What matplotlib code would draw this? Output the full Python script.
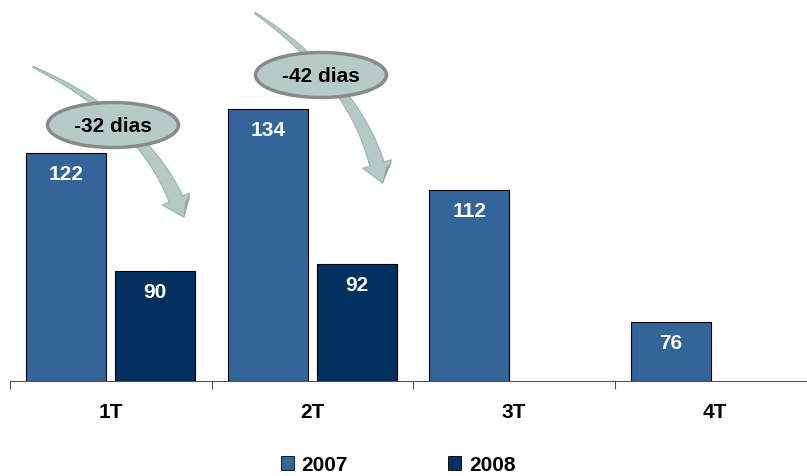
import numpy as np
import matplotlib.pyplot as plt
from matplotlib.patches import Ellipse, Polygon, Patch

# dados
trimestres = ['1T', '2T', '3T', '4T']
anos = ['2007', '2008']
dias_2007 = [122, 134, 112, 76]
dias_2008 = [90, 92, None, None]
notas = ['-32 dias', '-42 dias']

cor_2007 = '#34659A'
cor_2008 = '#02305F'
cor_seta = '#B3C9C3'

plt.rcParams['font.family'] = ['Liberation Sans', 'DejaVu Sans']

fig = plt.figure(figsize=(8.07, 4.77), dpi=100)
ax = fig.add_axes([10 / 807, 1 - 382 / 477, 797 / 807, 382 / 477])

x = np.arange(len(trimestres))
w = 0.397
off = 0.221

for xi, v in zip(x, dias_2007):
    ax.bar(xi - off, v - 60, bottom=60, width=w, color=cor_2007, edgecolor='black', linewidth=0.8)
    ax.text(xi - off, v - 3.0, str(v), ha='center', va='top', color='white',
            fontsize=15, fontweight='bold')
for xi, v in zip(x, dias_2008):
    if v is None:
        continue
    ax.bar(xi + off, v - 60, bottom=60, width=w, color=cor_2008, edgecolor='black', linewidth=0.8)
    ax.text(xi + off, v - 3.0, str(v), ha='center', va='top', color='white',
            fontsize=15, fontweight='bold')

for s in ['top', 'right', 'left']:
    ax.spines[s].set_visible(False)
ax.spines['bottom'].set_color('#555555')
ax.set_yticks([])
ax.set_xticks(np.arange(len(trimestres) + 1) - 0.5)
ax.set_xticklabels([])
ax.tick_params(axis='x', direction='out', length=6, color='#555555')
ax.set_ylim(60, 60 + 382 / 3.67)
ax.set_xlim(-0.5, -0.5 + 797 / 201.5)

for xi, t in zip(x, trimestres):
    ax.text(xi, 60 - 21 / 3.67, t, ha='center', va='top', fontsize=15, fontweight='bold')

# camada em pixels para setas e balões
ov = fig.add_axes([0, 0, 1, 1])
ov.set_xlim(0, 807)
ov.set_ylim(477, 0)
ov.axis('off')


def seta(p0, p1, p2, w0, w1, head_w, head_len):
    p0, p1, p2 = map(np.array, (p0, p1, p2))
    t = np.linspace(0, 1, 40)[:, None]
    pts = (1 - t) ** 2 * p0 + 2 * (1 - t) * t * p1 + t ** 2 * p2
    tan = 2 * (1 - t) * (p1 - p0) + 2 * t * (p2 - p1)
    tan = tan / np.linalg.norm(tan, axis=1)[:, None]
    nrm = np.column_stack([-tan[:, 1], tan[:, 0]])
    wid = (w0 + (w1 - w0) * t) / 2
    left = pts + nrm * wid
    right = pts - nrm * wid
    d = tan[-1]
    n = nrm[-1]
    tip = p2 + d * head_len
    head = [p2 + n * head_w / 2, tip, p2 - n * head_w / 2]
    poly = np.vstack([left, head, right[::-1]])
    ov.add_patch(Polygon(poly, closed=True, facecolor=cor_seta, edgecolor='#9FB7B0',
                         linewidth=0.8, zorder=2))
    ov.add_patch(Polygon([p2 - n * head_w / 2 + d * 2, tip, p2 - n * head_w / 4 + d * 6],
                         closed=True, facecolor='#8FA69F', edgecolor='none', zorder=2))


seta((33, 68), (140, 118), (176, 200), 1.5, 15, 30, 20)
seta((255, 14), (352, 80), (377, 165), 1.5, 15, 30, 20)

for (cx, cy), nota in zip([(113, 126), (321, 76)], notas):
    ov.add_patch(Ellipse((cx, cy), 131, 45, facecolor='#B5CBC5', edgecolor='#8A8A8A',
                         linewidth=2.5, zorder=3))
    ov.text(cx, cy + 1, nota, ha='center', va='center', fontsize=15, fontweight='bold',
            color='black', zorder=4)

handles = [Patch(facecolor=cor_2007, edgecolor='black', linewidth=0.6),
           Patch(facecolor=cor_2008, edgecolor='black', linewidth=0.6)]
leg = fig.legend(handles, anos, loc='center', bbox_to_anchor=(398 / 807, 1 - 466 / 477), ncol=2,
                 frameon=False, handlelength=0.65, handleheight=0.65, handletextpad=0.35,
                 columnspacing=4.8, borderpad=0, prop={'size': 15, 'weight': 'bold'})

fig.savefig('out.png', dpi=100)
